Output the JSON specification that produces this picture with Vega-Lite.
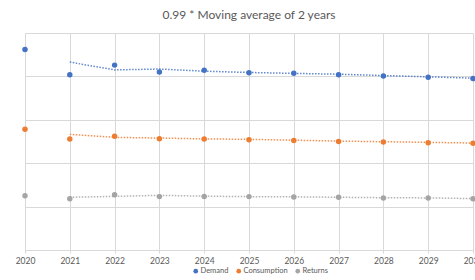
{
  "$schema": "https://vega.github.io/schema/vega-lite/v6.json",
  "width": 448,
  "height": 217,
  "autosize": "none",
  "padding": {"left": 25, "top": 33, "right": 2, "bottom": 30},
  "background": "white",
  "title": {"text": "0.99 * Moving average of 2 years", "font": "Lato", "fontSize": 12, "fontWeight": "normal", "color": "#595959", "offset": 11},
  "config": {"view": {"stroke": null}, "font": "Lato"},
  "data": {"values": [
    {"year": 2020, "series": "Demand", "kind": "point", "value": 462},
    {"year": 2021, "series": "Demand", "kind": "point", "value": 404},
    {"year": 2022, "series": "Demand", "kind": "point", "value": 426},
    {"year": 2023, "series": "Demand", "kind": "point", "value": 410},
    {"year": 2024, "series": "Demand", "kind": "point", "value": 414},
    {"year": 2025, "series": "Demand", "kind": "point", "value": 408.5},
    {"year": 2026, "series": "Demand", "kind": "point", "value": 407},
    {"year": 2027, "series": "Demand", "kind": "point", "value": 404},
    {"year": 2028, "series": "Demand", "kind": "point", "value": 401},
    {"year": 2029, "series": "Demand", "kind": "point", "value": 398},
    {"year": 2030, "series": "Demand", "kind": "point", "value": 395},
    {"year": 2020, "series": "Consumption", "kind": "point", "value": 278},
    {"year": 2021, "series": "Consumption", "kind": "point", "value": 256},
    {"year": 2022, "series": "Consumption", "kind": "point", "value": 262},
    {"year": 2023, "series": "Consumption", "kind": "point", "value": 256.5},
    {"year": 2024, "series": "Consumption", "kind": "point", "value": 256},
    {"year": 2025, "series": "Consumption", "kind": "point", "value": 254},
    {"year": 2026, "series": "Consumption", "kind": "point", "value": 252.5},
    {"year": 2027, "series": "Consumption", "kind": "point", "value": 250},
    {"year": 2028, "series": "Consumption", "kind": "point", "value": 249},
    {"year": 2029, "series": "Consumption", "kind": "point", "value": 247},
    {"year": 2030, "series": "Consumption", "kind": "point", "value": 246},
    {"year": 2020, "series": "Returns", "kind": "point", "value": 125},
    {"year": 2021, "series": "Returns", "kind": "point", "value": 118},
    {"year": 2022, "series": "Returns", "kind": "point", "value": 127.5},
    {"year": 2023, "series": "Returns", "kind": "point", "value": 123},
    {"year": 2024, "series": "Returns", "kind": "point", "value": 123.5},
    {"year": 2025, "series": "Returns", "kind": "point", "value": 123},
    {"year": 2026, "series": "Returns", "kind": "point", "value": 122},
    {"year": 2027, "series": "Returns", "kind": "point", "value": 121.5},
    {"year": 2028, "series": "Returns", "kind": "point", "value": 120},
    {"year": 2029, "series": "Returns", "kind": "point", "value": 120},
    {"year": 2030, "series": "Returns", "kind": "point", "value": 118},
    {"year": 2021, "series": "Demand", "kind": "trend", "value": 433},
    {"year": 2022, "series": "Demand", "kind": "trend", "value": 415},
    {"year": 2023, "series": "Demand", "kind": "trend", "value": 417},
    {"year": 2024, "series": "Demand", "kind": "trend", "value": 412},
    {"year": 2025, "series": "Demand", "kind": "trend", "value": 409},
    {"year": 2026, "series": "Demand", "kind": "trend", "value": 407},
    {"year": 2027, "series": "Demand", "kind": "trend", "value": 405},
    {"year": 2028, "series": "Demand", "kind": "trend", "value": 402},
    {"year": 2029, "series": "Demand", "kind": "trend", "value": 399},
    {"year": 2030, "series": "Demand", "kind": "trend", "value": 396},
    {"year": 2021, "series": "Consumption", "kind": "trend", "value": 266.5},
    {"year": 2022, "series": "Consumption", "kind": "trend", "value": 259.5},
    {"year": 2023, "series": "Consumption", "kind": "trend", "value": 258},
    {"year": 2024, "series": "Consumption", "kind": "trend", "value": 256},
    {"year": 2025, "series": "Consumption", "kind": "trend", "value": 255},
    {"year": 2026, "series": "Consumption", "kind": "trend", "value": 253},
    {"year": 2027, "series": "Consumption", "kind": "trend", "value": 251},
    {"year": 2028, "series": "Consumption", "kind": "trend", "value": 249.5},
    {"year": 2029, "series": "Consumption", "kind": "trend", "value": 248},
    {"year": 2030, "series": "Consumption", "kind": "trend", "value": 246.5},
    {"year": 2021, "series": "Returns", "kind": "trend", "value": 121.5},
    {"year": 2022, "series": "Returns", "kind": "trend", "value": 123.5},
    {"year": 2023, "series": "Returns", "kind": "trend", "value": 126},
    {"year": 2024, "series": "Returns", "kind": "trend", "value": 124},
    {"year": 2025, "series": "Returns", "kind": "trend", "value": 123},
    {"year": 2026, "series": "Returns", "kind": "trend", "value": 122.5},
    {"year": 2027, "series": "Returns", "kind": "trend", "value": 121.5},
    {"year": 2028, "series": "Returns", "kind": "trend", "value": 120.5},
    {"year": 2029, "series": "Returns", "kind": "trend", "value": 120},
    {"year": 2030, "series": "Returns", "kind": "trend", "value": 118.5}
  ]},
  "encoding": {
    "x": {"field": "year", "type": "quantitative", "scale": {"domain": [2020, 2030], "nice": false, "zero": false},
      "axis": {"title": null, "format": "d", "values": [2020,2021,2022,2023,2024,2025,2026,2027,2028,2029,2030], "labelFlush": false, "labelBound": false, "grid": true, "gridColor": "#d9d9d9", "domainColor": "#d9d9d9", "tickColor": "#d9d9d9", "tickSize": 3, "labelColor": "#595959", "labelFontSize": 8.5, "labelPadding": 3, "labelFont": "Lato"}},
    "y": {"field": "value", "type": "quantitative", "scale": {"domain": [0, 500], "nice": false},
      "axis": {"title": null, "values": [0,100,200,300,400,500], "labels": false, "ticks": false, "domain": false, "grid": true, "gridColor": "#d9d9d9"}},
    "color": {"field": "series", "type": "nominal", "scale": {"domain": ["Demand", "Consumption", "Returns"], "range": ["#4472C4", "#ED7D31", "#A5A5A5"]},
      "legend": {"title": null, "orient": "none", "legendX": 167, "legendY": 234, "direction": "horizontal", "symbolType": "circle", "symbolSize": 22, "symbolStrokeWidth": 0, "labelFontSize": 7.5, "labelColor": "#595959", "labelFont": "Lato", "columnPadding": 6, "symbolOffset": 0, "padding": 0, "labelOffset": 1}}
  },
  "layer": [
    {"transform": [{"filter": "datum.kind === 'point'"}], "mark": {"type": "circle", "size": 30, "opacity": 1}},
    {"transform": [{"filter": "datum.kind === 'trend'"}], "mark": {"type": "line", "strokeDash": [1.5, 1.5], "strokeWidth": 1.5, "opacity": 0.85}}
  ]
}
